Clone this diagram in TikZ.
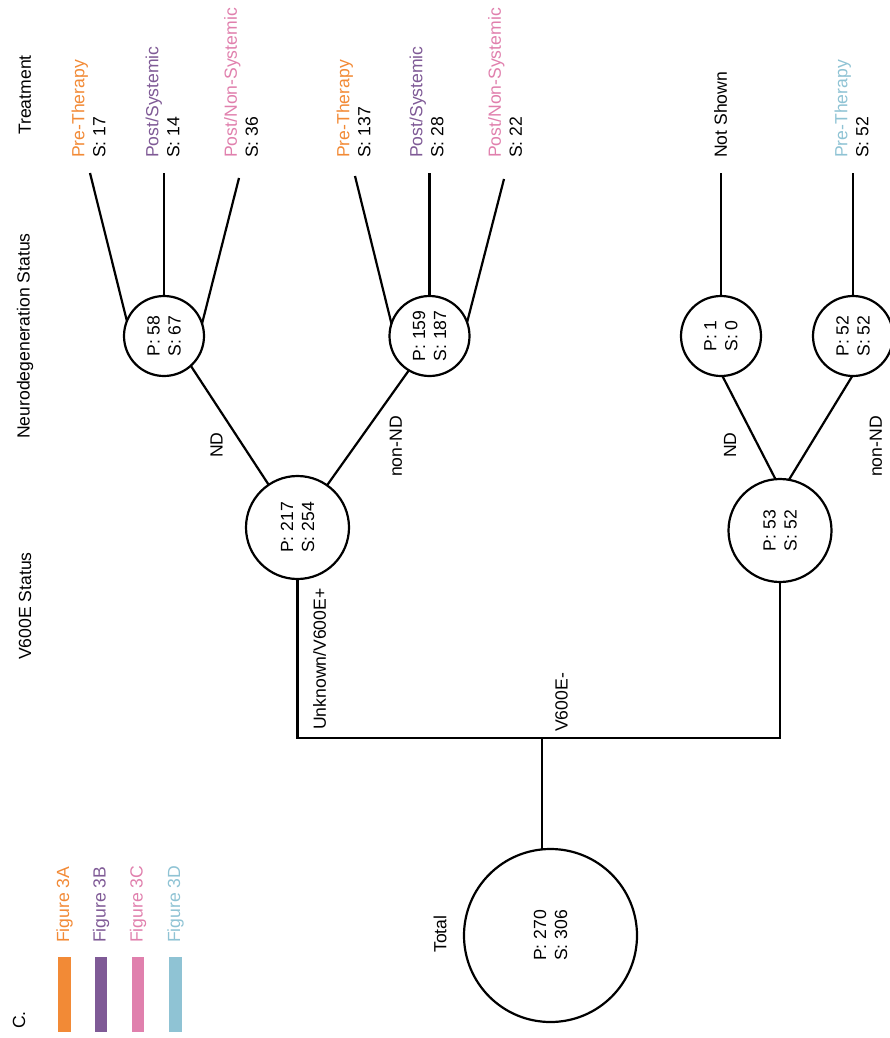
\documentclass[tikz,border=0pt]{standalone}
\usepackage{fontspec}
\setmainfont{Liberation Sans}
\definecolor{c3a}{RGB}{242,138,54}
\definecolor{c3b}{RGB}{127,90,150}
\definecolor{c3c}{RGB}{224,128,173}
\definecolor{c3d}{RGB}{143,195,212}
\begin{document}
\begin{tikzpicture}[x=1pt,y=-1pt,
 txt/.style={font=\fontsize{17.6}{21}\selectfont, inner sep=0pt, rotate=90},
 lbl/.style={txt, anchor=west, align=left},
 ctxt/.style={txt, align=center},
 circ/.style={circle, draw, line width=2.2pt, inner sep=0pt, outer sep=0pt, minimum size=#1},
 conn/.style={line width=2.2pt},
 bar/.style={fill=#1, draw=none}]
\useasboundingbox (0,0) rectangle (890,1038);

% legend
\node[txt] (lettc) at (19,1020) {C.};
\fill[bar=c3a] (58,957) rectangle (71,1032);
\fill[bar=c3b] (95,957) rectangle (107,1032);
\fill[bar=c3c] (132,957) rectangle (144,1032);
\fill[bar=c3d] (169,957) rectangle (182,1032);
\node[lbl, text=c3a] (lg3a) at (64.5,943) {Figure 3A};
\node[lbl, text=c3b] (lg3b) at (101,943) {Figure 3B};
\node[lbl, text=c3c] (lg3c) at (138,943) {Figure 3C};
\node[lbl, text=c3d] (lg3d) at (175.5,943) {Figure 3D};

% headers
\node[lbl] (hTreat) at (25,135) {Treatment};
\node[txt] (hNeuro) at (25,336) {Neurodegeneration Status};
\node[txt] (hV600) at (25,606) {V600E Status};
\node[lbl] (hTotal) at (440,953) {Total};

% circles
\node[circ=80] (nd1) at (164,336) {};
\node[circ=80] (nn1) at (429.5,336) {};
\node[circ=80] (nd2) at (721,336) {};
\node[circ=80] (nn2) at (853,336) {};
\node[circ=103] (p217) at (297.5,527.5) {};
\node[circ=103] (p53) at (780,530.5) {};
\node[circ=173] (total) at (550.5,935.5) {};

\node[ctxt] (tnd1) at (nd1) {P: 58\\S: 67};
\node[ctxt] (tnn1) at (nn1) {P: 159\\S: 187};
\node[ctxt] (tnd2) at (nd2) {P: 1\\S: 0};
\node[ctxt] (tnn2) at (nn2) {P: 52\\S: 52};
\node[ctxt] (tp217) at (p217) {P: 217\\S: 254};
\node[ctxt] (tp53) at (p53) {P: 53\\S: 52};
\node[ctxt] (ttotal) at (total) {P: 270\\S: 306};

% treatment labels
\node[lbl] (tA1) at (88.5,158) {\textcolor{c3a}{Pre-Therapy}\\S: 17};
\node[lbl] (tA2) at (162.5,158) {\textcolor{c3b}{Post/Systemic}\\S: 14};
\node[lbl] (tA3) at (241,158) {\textcolor{c3c}{Post/Non-Systemic}\\S: 36};
\node[lbl] (tB1) at (353.5,158) {\textcolor{c3a}{Pre-Therapy}\\S: 137};
\node[lbl] (tB2) at (426.5,158) {\textcolor{c3b}{Post/Systemic}\\S: 28};
\node[lbl] (tB3) at (505,158) {\textcolor{c3c}{Post/Non-Systemic}\\S: 22};
\node[lbl] (tC1) at (720.5,158) {Not Shown};
\node[lbl] (tD1) at (851.5,158) {\textcolor{c3d}{Pre-Therapy}\\S: 52};

% line ends
\coordinate (eA1) at (90,173);
\coordinate (eA2) at (164,173);
\coordinate (eA3) at (239,178);
\coordinate (eB1) at (355,176);
\coordinate (eB2) at (429.5,173);
\coordinate (eB3) at (504,179);
\coordinate (eC1) at (721,173);
\coordinate (eD1) at (853,173);

\draw[conn] (nd1.158) -- (eA1);
\draw[conn] (nd1.north) -- (eA2);
\draw[conn] (nd1.18) -- (eA3);
\draw[conn] (nn1.162) -- (eB1);
\draw[conn] (nn1.north) -- (eB2);
\draw[conn] (nn1.20) -- (eB3);
\draw[conn] (nd2.north) -- (eC1);
\draw[conn] (nn2.north) -- (eD1);

% branches
\draw[conn] (p217.124) -- (nd1.-48);
\draw[conn] (p217.55) -- (nn1.-121);
\draw[conn] (p53.95) -- (nd2.-88);
\draw[conn] (p53.80) -- (nn2.-91);

\node[lbl] (bND1) at (216.5,458) {ND};
\node[lbl] (bNN1) at (396,477) {non-ND};
\node[lbl] (bND2) at (730,458) {ND};
\node[lbl] (bNN2) at (876,477) {non-ND};

% V600E split
\coordinate (hl) at (297.5,738);
\coordinate (hr) at (780,738);
\coordinate (hm) at (542,738);
\draw[conn] (p217.south) -- (hl) -- (hr) -- (p53.south);
\draw[conn] (hm) -- (hm |- total.north);
\node[lbl] (bUnk) at (319.5,730) {Unknown/V600E+};
\node[lbl] (bNeg) at (561.5,732) {V600E-};
\end{tikzpicture}
\end{document}
